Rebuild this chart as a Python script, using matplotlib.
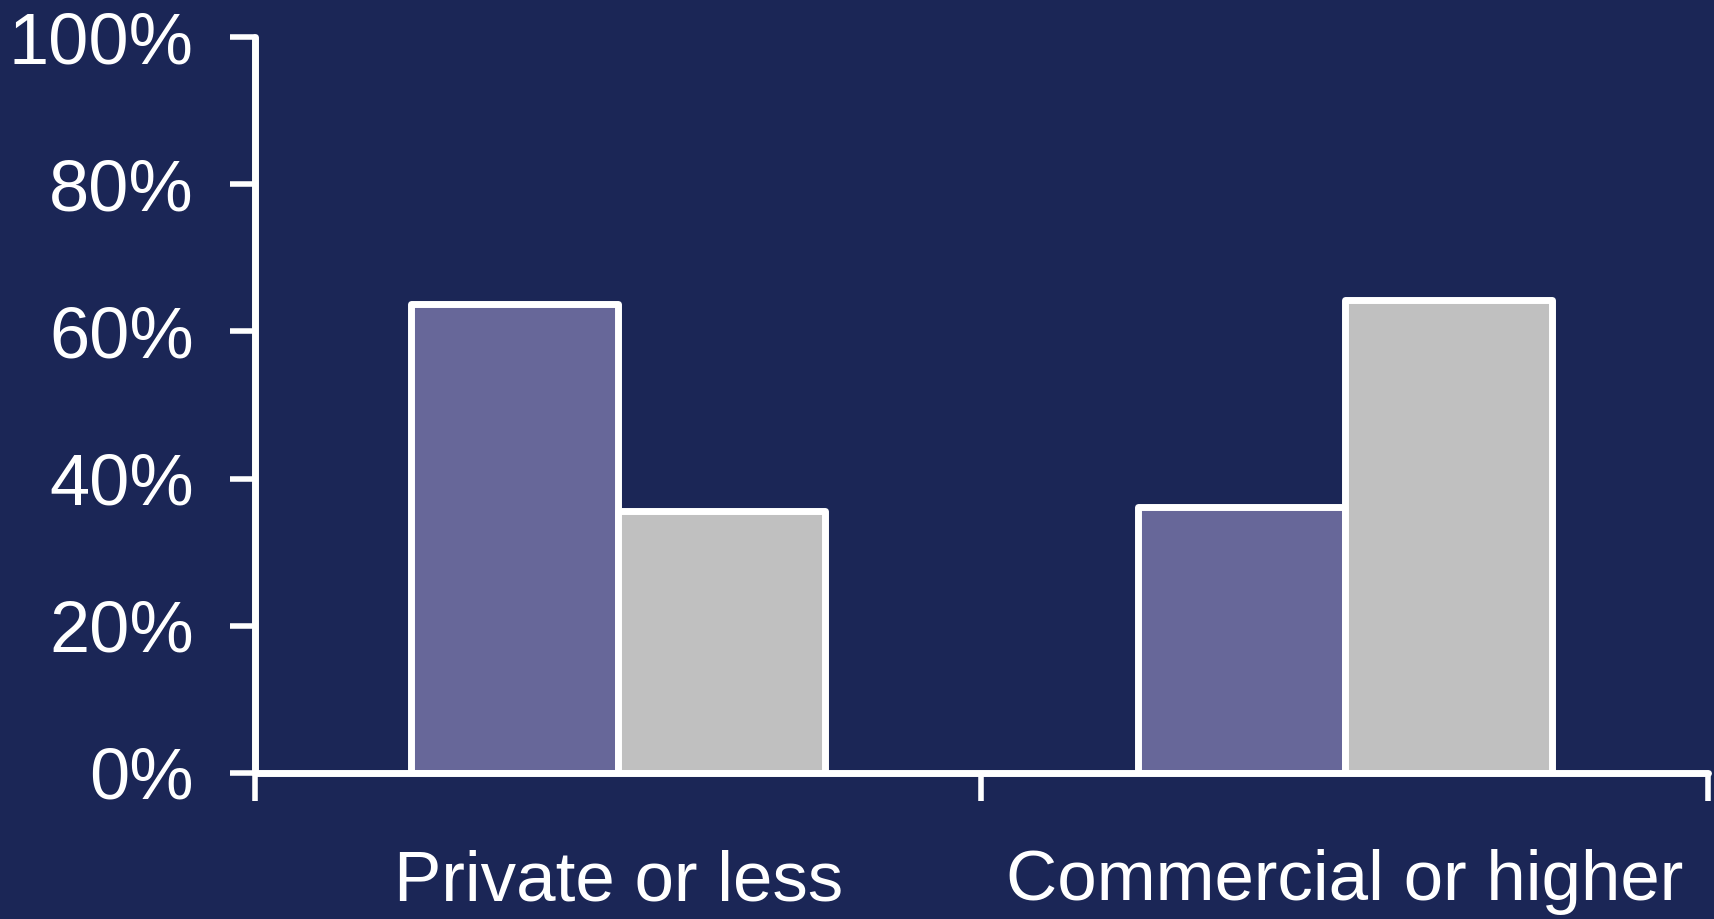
import matplotlib
matplotlib.use("Agg")
import matplotlib.pyplot as plt
import numpy as np

categories = ["Private or less", "Commercial or higher"]
series_a = [63.8, 36.1]   # purple bars
series_b = [35.6, 64.3]   # gray bars
y_ticks = [0, 20, 40, 60, 80, 100]
y_tick_labels = ["0%", "20%", "40%", "60%", "80%", "100%"]

bg = "#1b2656"
purple = "#676799"
gray = "#c0c0c0"

plt.rcParams["font.family"] = ["Liberation Sans", "DejaVu Sans"]

fig = plt.figure(figsize=(17.15, 9.19), dpi=100, facecolor=bg)
ax = fig.add_axes([0.1487, 0.1592, 0.8472, 0.8002])
ax.set_facecolor(bg)

x = np.arange(len(categories))
w = 0.285
ax.bar(x - w / 2, series_a, w, color=purple, edgecolor="white",
       linewidth=5, joinstyle="round", zorder=3)
ax.bar(x + w / 2, series_b, w, color=gray, edgecolor="white",
       linewidth=5, joinstyle="round", zorder=3)

ax.set_xlim(-0.5, len(categories) - 0.5)
ax.set_ylim(0, 100)

for side in ["top", "right"]:
    ax.spines[side].set_visible(False)
for side in ["left", "bottom"]:
    ax.spines[side].set_color("white")
    ax.spines[side].set_linewidth(5)
    ax.spines[side].set_capstyle("round")
    ax.spines[side].set_zorder(4)

ax.set_yticks(y_ticks)
ax.set_yticklabels(y_tick_labels)
ax.tick_params(axis="y", colors="white", labelsize=52, length=18,
               width=4, pad=26)

ax.set_xticks(x)
ax.set_xticklabels(categories)
ax.set_xticks(np.arange(-0.5, len(categories)), minor=True)
ax.tick_params(axis="x", which="major", length=0, colors="white",
               labelsize=51, pad=55)
ax.tick_params(axis="x", which="minor", length=20, width=4, color="white")

fig.savefig("out.png", dpi=100, facecolor=bg)
